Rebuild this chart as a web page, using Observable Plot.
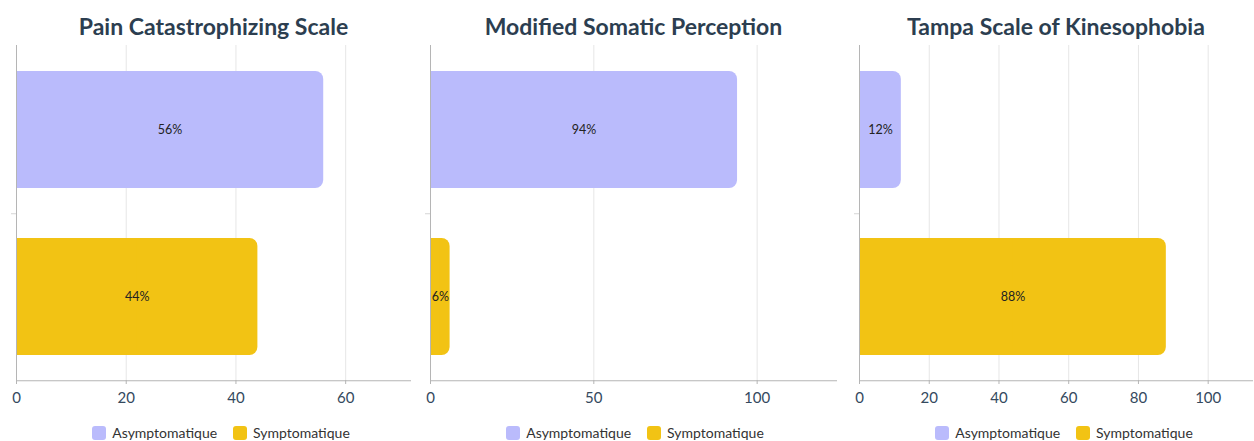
<!DOCTYPE html>
<html>
<head>
<meta charset="utf-8">
<script src="https://cdn.jsdelivr.net/npm/d3@7"></script>
<script src="https://cdn.jsdelivr.net/npm/@observablehq/plot@0.6"></script>
<style>
  html, body { margin: 0; padding: 0; background: #fff; }
  body { width: 1254px; height: 441px; position: relative; overflow: hidden; font-family: Lato, "Open Sans", sans-serif; }
  .title { position: absolute; top: 12px; width: 420px; text-align: center; font-family: Lato, sans-serif; font-weight: 700; font-size: 23px; line-height: 28px; color: #2c3e50; white-space: nowrap; }
  .plot { position: absolute; top: 40px; }
  .legend { position: absolute; top: 424px; width: 420px; text-align: center; font-family: Lato, sans-serif; font-size: 14px; color: #333; white-space: nowrap; }
  .legend span.item { display: inline-flex; align-items: center; margin: 0 8px; }
  .legend span.sw { display: inline-block; width: 14px; height: 14px; border-radius: 3px; margin-right: 6px; }
</style>
</head>
<body>
<script>
// ---- data ----
const groups = ["Asymptomatique", "Symptomatique"];
const colors = ["#babbfc", "#f2c314"];
const titles = ["Pain Catastrophizing Scale", "Modified Somatic Perception", "Tampa Scale of Kinesophobia"];
const painValues = [56, 44];
const somaticValues = [94, 6];
const tampaValues = [12, 88];
const xMax = [72, 124.6, 113];
const xTicks = [[0, 20, 40, 60], [0, 50, 100], [0, 20, 40, 60, 80, 100]];

// layout per panel (svg left, svg width, marginLeft, marginRight, legend center)
const layout = [
  {left: 0, width: 418, ml: 16, mr: 7, legendCenter: 221},
  {left: 418, width: 419, ml: 12, mr: 0, legendCenter: 635},
  {left: 837, width: 417, ml: 22, mr: 1, legendCenter: 1064}
];
const series = [painValues, somaticValues, tampaValues];

series.forEach((vals, i) => {
  const L = layout[i];
  const data = groups.map((g, j) => ({group: g, value: vals[j]}));
  const plotH = 335;
  const step = plotH / 2;

  const chart = Plot.plot({
    width: L.width,
    height: 375,
    marginLeft: L.ml,
    marginRight: L.mr,
    marginTop: 5,
    marginBottom: 35,
    style: {fontFamily: "Lato, sans-serif", fontSize: "15px", color: "#34495e", background: "transparent"},
    x: {domain: [0, xMax[i]], label: null},
    y: {domain: groups, paddingInner: 0.3, paddingOuter: 0.15, axis: null},
    color: {domain: groups, range: colors},
    marks: [
      Plot.gridX(xTicks[i].filter(t => t > 0), {stroke: "#e6e6e6", strokeOpacity: 1}),
      Plot.barX(data, {y: "group", x1: 0, x2: "value", fill: "group", rx: 8}),
      Plot.barX(data, {y: "group", x1: 0, x2: d => d.value / 2, fill: "group"}),
      Plot.text(data, {y: "group", x: d => d.value / 2, text: d => d.value + "%", fill: "#222", fontSize: 12.5, fontFamily: "Lato, sans-serif"}),
      Plot.ruleX([0], {stroke: "#b5b5b5"}),
      Plot.ruleY([groups[0]], {x1: 0, x2: 0, insetLeft: -5, dy: step / 2, stroke: "#d5d5d5"}),
      Plot.ruleY([groups[1]], {dy: step / 2, stroke: "#b5b5b5"}),
      Plot.axisX({ticks: xTicks[i], tickSize: 4, tickPadding: 8, stroke: "#b5b5b5", fill: "#34495e", fontSize: 15, label: null})
    ]
  });
  chart.classList.add("plot");
  chart.style.left = L.left + "px";
  document.body.appendChild(chart);

  const t = document.createElement("div");
  t.className = "title";
  const center = L.left + L.ml + (L.width - L.ml - L.mr) / 2;
  t.style.left = (center - 210) + "px";
  t.textContent = titles[i];
  document.body.appendChild(t);

  const lg = document.createElement("div");
  lg.className = "legend";
  lg.style.left = (L.legendCenter - 210) + "px";
  groups.forEach((g, j) => {
    const it = document.createElement("span");
    it.className = "item";
    const sw = document.createElement("span");
    sw.className = "sw";
    sw.style.background = colors[j];
    it.appendChild(sw);
    it.appendChild(document.createTextNode(g));
    lg.appendChild(it);
  });
  document.body.appendChild(lg);
});
</script>
</body>
</html>
